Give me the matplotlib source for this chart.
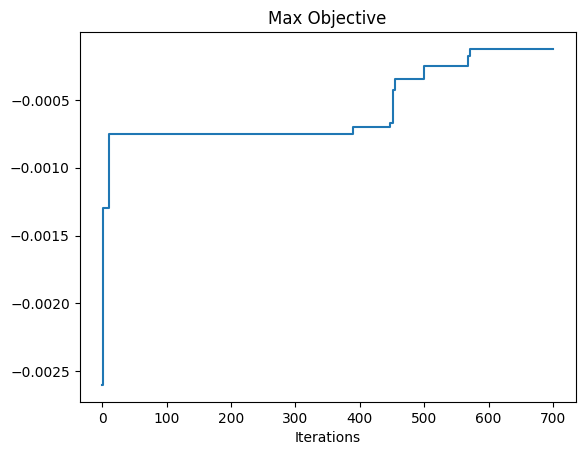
import matplotlib
matplotlib.use("Agg")
import matplotlib.pyplot as plt

# iterations at which the best objective improved, and the new best value
iterations = [0, 1, 11, 389, 447, 452, 455, 499, 568, 571, 700]
max_objective = [-0.00260, -0.00130, -0.00075, -0.00070, -0.00067,
                 -0.00043, -0.00035, -0.00025, -0.00018, -0.000125, -0.000125]

fig, ax = plt.subplots()
ax.plot(iterations, max_objective, drawstyle='steps-post')
ax.set_title("Max Objective")
ax.set_xlabel("Iterations")

plt.savefig("out.png", bbox_inches='tight')
